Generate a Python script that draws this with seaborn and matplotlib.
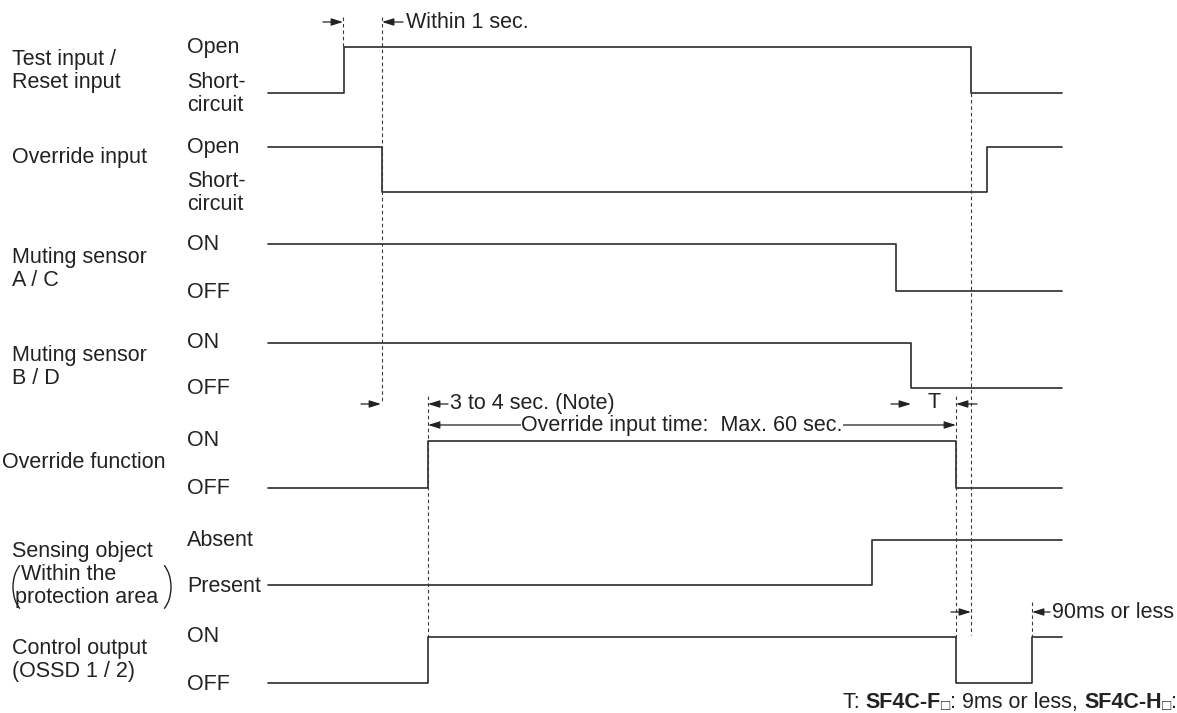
import pandas as pd
import matplotlib.pyplot as plt
import seaborn as sns
from matplotlib.patches import Arc

# signal timing (x in diagram time units), level 1 = upper state, 0 = lower state
test_t = [268, 344, 971, 1062]
test_lv = [0, 1, 0, 0]
override_in_t = [268, 382, 987, 1062]
override_in_lv = [1, 0, 1, 1]
muting_ac_t = [268, 896, 1062]
muting_ac_lv = [1, 0, 0]
muting_bd_t = [268, 911, 1062]
muting_bd_lv = [1, 0, 0]
override_fn_t = [268, 428, 956, 1062]
override_fn_lv = [0, 1, 0, 0]
sensing_t = [268, 872, 1062]
sensing_lv = [0, 1, 1]
control_t = [268, 428, 956, 1032, 1062]
control_lv = [0, 1, 0, 1, 1]

signal_names = ["Test input / Reset input", "Override input", "Muting sensor A / C",
                "Muting sensor B / D", "Override function", "Sensing object", "Control output"]
upper_labels = ["Open", "Open", "ON", "ON", "ON", "Absent", "ON"]
lower_labels = ["Short-\ncircuit", "Short-\ncircuit", "OFF", "OFF", "OFF", "Present", "OFF"]

# layout of the rows (pixel rows of the upper / lower level)
row_top = [47, 147, 244, 343, 441, 540, 637]
row_bot = [93, 192, 291, 388, 488, 585, 683]
row_label_x = [12, 12, 12, 12, 2, None, 12]
row_label_y = [71, 157, 269, 367, 463, None, 660]
row_label_txt = ["Test input /\nReset input", "Override input", "Muting sensor\nA / C",
                 "Muting sensor\nB / D", "Override function", None, "Control output\n(OSSD 1 / 2)"]

series = [(test_t, test_lv), (override_in_t, override_in_lv), (muting_ac_t, muting_ac_lv),
          (muting_bd_t, muting_bd_lv), (override_fn_t, override_fn_lv),
          (sensing_t, sensing_lv), (control_t, control_lv)]

rows = []
for i, (ts, lvs) in enumerate(series):
    for t, lv in zip(ts, lvs):
        rows.append({"signal": signal_names[i], "t": t, "y": row_top[i] if lv else row_bot[i]})
df = pd.DataFrame(rows)

# dashed guide lines: (x, y from, y to)
guides = [(343, 17, 47), (382, 17, 402), (428, 396, 637), (956, 396, 637),
          (971, 93, 635), (1032, 602, 637)]

sns.set_style("white")
plt.rcParams["font.family"] = ["Liberation Sans", "DejaVu Sans"]

fig = plt.figure(figsize=(11.77, 7.13), dpi=100)
ax = fig.add_axes([0, 0, 1, 1])

sns.lineplot(data=df, x="t", y="y", units="signal", estimator=None, sort=True,
             drawstyle="steps-post", color="#2b2b2b", linewidth=1.2, legend=False, ax=ax)

for x, y0, y1 in guides:
    ax.vlines(x, y0, y1, colors="#3a3a3a", linewidth=0.8, linestyles=(0, (3.2, 2.6)))

ax.set_xlim(0, 1177)
ax.set_ylim(713, 0)
ax.axis("off")

fs = 15.5
txt = dict(fontsize=fs, color="#222222")

# left labels
for i in range(7):
    ax.text(187, row_top[i], upper_labels[i], ha="left", va="center", **txt)
    ax.text(187, row_bot[i] + 1, lower_labels[i], ha="left", va="center", linespacing=1.15, **txt)
    if row_label_txt[i]:
        ax.text(row_label_x[i], row_label_y[i], row_label_txt[i], ha="left", va="center",
                linespacing=1.12, **txt)

ax.text(12, 552, "Sensing object", ha="left", va="center", **txt)
ax.text(21, 575, "Within the", ha="left", va="center", **txt)
ax.text(15, 598, "protection area", ha="left", va="center", **txt)
ax.add_patch(Arc((30, 587), 34, 54, theta1=115, theta2=245, color="#222222", lw=1.0))
ax.add_patch(Arc((154, 587), 34, 54, theta1=-65, theta2=65, color="#222222", lw=1.0))

def arrow(x0, x1, y):
    ax.annotate("", xy=(x1, y), xytext=(x0, y),
                arrowprops=dict(arrowstyle="-|>,head_length=0.7,head_width=0.22",
                                color="#222222", lw=0.9, shrinkA=0, shrinkB=0))

arrow(323, 343, 22)
arrow(403, 382, 22)
ax.text(406, 22, "Within 1 sec.", ha="left", va="center", **txt)

arrow(361, 381, 404)
arrow(448, 428, 404)
ax.text(450, 403, "3 to 4 sec. (Note)", ha="left", va="center", **txt)

arrow(891, 911, 404)
ax.text(934, 403, "T", ha="center", va="center", **txt)
arrow(977, 956, 404)

ax.annotate("", xy=(956, 425), xytext=(428, 425),
            arrowprops=dict(arrowstyle="<|-|>,head_length=0.7,head_width=0.22",
                            color="#222222", lw=0.9, shrinkA=0, shrinkB=0))
ax.text(682, 425, "Override input time:  Max. 60 sec.", ha="center", va="center",
        bbox=dict(facecolor="white", edgecolor="none", pad=0.5), **txt)

arrow(951, 971, 612)
arrow(1050, 1032, 612)
ax.text(1052, 612, "90ms or less", ha="left", va="center", **txt)

# footnote with bold model names
pieces = [("T: ", "normal", 15.5), ("SF4C-F", "bold", 15.5), ("\u25a1", "normal", 11),
          (": 9ms or less, ", "normal", 15.5), ("SF4C-H", "bold", 15.5), ("\u25a1", "normal", 11),
          (":", "normal", 15.5)]
prev = ax.text(843, 708, pieces[0][0], ha="left", va="baseline", fontsize=pieces[0][2],
               color="#222222")
for s, w, f in pieces[1:]:
    prev = ax.annotate(s, xy=(1, 0), xycoords=prev, ha="left", va="bottom",
                       fontsize=f, fontweight=w, color="#222222")

fig.savefig("out.png", dpi=100)
